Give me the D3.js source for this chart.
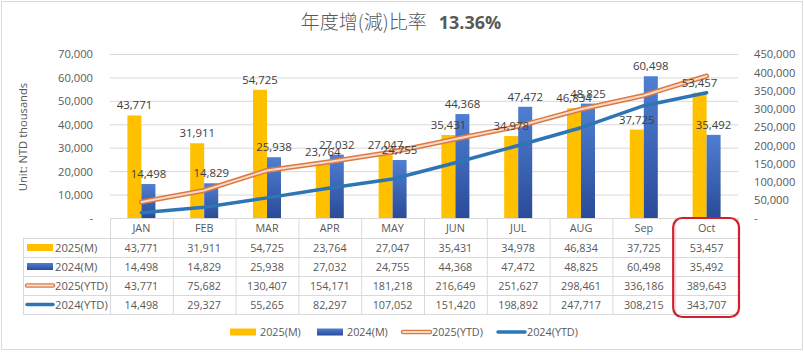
<!DOCTYPE html>
<html>
<head>
<meta charset="utf-8">
<script src="https://cdn.jsdelivr.net/npm/d3@7"></script>
<style>
  body { margin: 0; background: #fff; }
  text { font-family: 'Open Sans', 'Noto Sans', sans-serif; }
</style>
</head>
<body>
<script>
const months = ['JAN', 'FEB', 'MAR', 'APR', 'MAY', 'JUN', 'JUL', 'AUG', 'Sep', 'Oct'];
const m2025 = [43771, 31911, 54725, 23764, 27047, 35431, 34978, 46834, 37725, 53457];
const m2024 = [14498, 14829, 25938, 27032, 24755, 44368, 47472, 48825, 60498, 35492];
const ytd2025 = [43771, 75682, 130407, 154171, 181218, 216649, 251627, 298461, 336186, 389643];
const ytd2024 = [14498, 29327, 55265, 82297, 107052, 151420, 198892, 247717, 308215, 343707];
const leftTicks = [0, 10000, 20000, 30000, 40000, 50000, 60000, 70000];
const rightTicks = [0, 50000, 100000, 150000, 200000, 250000, 300000, 350000, 400000, 450000];
const seriesNames = ['2025(M)', '2024(M)', '2025(YTD)', '2024(YTD)'];

const W = 804, H = 352;
const svg = d3.select('body').append('svg').attr('width', W).attr('height', H);

const fmt = d3.format(',');
const tickFmt = (d) => (d === 0 ? '-' : fmt(d));
const grey = '#595959';
const gridCol = '#d9d9d9';
const fs = 10.8;

// outer frame
svg.append('rect').attr('x', 1.5).attr('y', 1.5).attr('width', W - 3).attr('height', H - 4)
  .attr('fill', '#fff').attr('stroke', gridCol);

// title
const title = svg.append('text').attr('x', 401).attr('y', 29).attr('text-anchor', 'middle')
  .attr('fill', grey).attr('font-size', 19);
title.append('tspan').attr('font-family', "'Noto Sans CJK TC', sans-serif").attr('font-weight', 300).text('年度增(減)比率');
title.append('tspan').attr('dx', 12).attr('font-weight', 'bold').attr('font-size', 18).text('13.36%');

const x = d3.scaleBand().domain(months).range([110, 738]);
const yL = d3.scaleLinear().domain([0, 70000]).range([218, 54]);
const yR = d3.scaleLinear().domain([0, 450000]).range([218, 54]);

// gridlines
svg.append('g').selectAll('line').data(leftTicks.slice(1)).join('line')
  .attr('x1', 110).attr('x2', 738).attr('y1', (d) => yL(d) + 0.5).attr('y2', (d) => yL(d) + 0.5)
  .attr('stroke', gridCol);

// left axis
const axL = svg.append('g').attr('transform', 'translate(96,0)')
  .call(d3.axisLeft(yL).tickValues(leftTicks).tickFormat(tickFmt).tickSize(0));
axL.select('.domain').remove();
axL.selectAll('text').attr('fill', grey).attr('font-size', fs + 0.4).attr('dy', '0.35em');

// right axis
const axR = svg.append('g').attr('transform', 'translate(751,0)')
  .call(d3.axisRight(yR).tickValues(rightTicks).tickFormat(tickFmt).tickSize(0));
axR.select('.domain').remove();
axR.selectAll('text').attr('fill', grey).attr('font-size', fs + 0.4).attr('dy', '0.35em');

svg.append('text').attr('transform', 'translate(27,137) rotate(-90)').attr('text-anchor', 'middle')
  .attr('fill', grey).attr('font-size', fs + 0.4).text('Unit: NTD thousands');

// gradient for 2024 bars
const defs = svg.append('defs');
const grad = defs.append('linearGradient').attr('id', 'blueGrad').attr('x1', 0).attr('x2', 0).attr('y1', 0).attr('y2', 1);
grad.append('stop').attr('offset', '0%').attr('stop-color', '#4f7fd2');
grad.append('stop').attr('offset', '100%').attr('stop-color', '#2a4b98');

const bw = 14;
const cx = (d) => x(d) + x.bandwidth() / 2;

svg.append('g').selectAll('rect').data(months).join('rect')
  .attr('x', (d) => cx(d) - bw).attr('width', bw)
  .attr('y', (d, i) => yL(m2025[i])).attr('height', (d, i) => yL(0) - yL(m2025[i]))
  .attr('fill', '#ffc000');
svg.append('g').selectAll('rect').data(months).join('rect')
  .attr('x', (d) => cx(d)).attr('width', bw)
  .attr('y', (d, i) => yL(m2024[i])).attr('height', (d, i) => yL(0) - yL(m2024[i]))
  .attr('fill', 'url(#blueGrad)');

// YTD lines
const lineR = (arr) => d3.line().x((d, i) => cx(months[i])).y((d) => yR(d))(arr);
svg.append('path').attr('d', lineR(ytd2025)).attr('fill', 'none')
  .attr('stroke', '#d97a45').attr('stroke-width', 5).attr('stroke-linejoin', 'round').attr('stroke-linecap', 'round');
svg.append('path').attr('d', lineR(ytd2025)).attr('fill', 'none')
  .attr('stroke', '#fbd9c2').attr('stroke-width', 2).attr('stroke-linejoin', 'round').attr('stroke-linecap', 'round');
svg.append('path').attr('d', lineR(ytd2024)).attr('fill', 'none')
  .attr('stroke', '#2e75b6').attr('stroke-width', 3.5).attr('stroke-linejoin', 'round').attr('stroke-linecap', 'round');

// bar labels
const lbl = svg.append('g').attr('fill', '#404040').attr('font-size', fs + 0.6).attr('text-anchor', 'middle');
lbl.selectAll('.l25').data(months).join('text').attr('class', 'l25')
  .attr('x', (d) => cx(d) - bw / 2).attr('y', (d, i) => yL(m2025[i]) - 6).text((d, i) => fmt(m2025[i]));
lbl.selectAll('.l24').data(months).join('text').attr('class', 'l24')
  .attr('x', (d) => cx(d) + bw / 2).attr('y', (d, i) => yL(m2024[i]) - 6).text((d, i) => fmt(m2024[i]));

// data table
const rowTop = 238, rowH = 19;
const rows = [m2025, m2024, ytd2025, ytd2024];
const tbl = svg.append('g').attr('stroke', gridCol).attr('stroke-width', 1);
tbl.append('line').attr('x1', 110).attr('x2', 738).attr('y1', 218.5).attr('y2', 218.5);
d3.range(rows.length + 1).forEach((r) => {
  const yy = rowTop + r * rowH + 0.5;
  tbl.append('line').attr('x1', 23).attr('x2', 738).attr('y1', yy).attr('y2', yy);
});
tbl.append('line').attr('x1', 23.5).attr('x2', 23.5).attr('y1', rowTop).attr('y2', rowTop + rows.length * rowH);
months.concat(['_end']).forEach((m, i) => {
  const xx = (i < months.length ? x(m) : 738) + 0.5;
  tbl.append('line').attr('x1', xx).attr('x2', xx).attr('y1', 218).attr('y2', rowTop + rows.length * rowH);
});

const tt = svg.append('g').attr('fill', grey).attr('font-size', fs).attr('text-anchor', 'middle');
tt.selectAll('.hd').data(months).join('text').attr('class', 'hd')
  .attr('x', cx).attr('y', 232).text((d) => d);
rows.forEach((arr, r) => {
  tt.selectAll('.r' + r).data(arr).join('text').attr('class', 'r' + r)
    .attr('x', (d, i) => cx(months[i])).attr('y', rowTop + r * rowH + 14).text((d) => fmt(d));
});

// legend keys
function drawKey(g, k, x0, yc, len) {
  if (k === 0) g.append('rect').attr('x', x0).attr('y', yc - 3.5).attr('width', len).attr('height', 7).attr('fill', '#ffc000');
  if (k === 1) g.append('rect').attr('x', x0).attr('y', yc - 3.5).attr('width', len).attr('height', 7).attr('fill', 'url(#blueGrad)');
  if (k === 2) {
    g.append('line').attr('x1', x0).attr('x2', x0 + len).attr('y1', yc).attr('y2', yc)
      .attr('stroke', '#d97a45').attr('stroke-width', 4.5).attr('stroke-linecap', 'round');
    g.append('line').attr('x1', x0).attr('x2', x0 + len).attr('y1', yc).attr('y2', yc)
      .attr('stroke', '#fbd9c2').attr('stroke-width', 1.8).attr('stroke-linecap', 'round');
  }
  if (k === 3) g.append('line').attr('x1', x0).attr('x2', x0 + len).attr('y1', yc).attr('y2', yc)
    .attr('stroke', '#2e75b6').attr('stroke-width', 3.5).attr('stroke-linecap', 'round');
}

const keys = svg.append('g');
seriesNames.forEach((s, r) => {
  const yc = rowTop + r * rowH + 9.5;
  drawKey(keys, r, 27, yc, 26);
  keys.append('text').attr('x', 55).attr('y', yc + 4).attr('fill', grey).attr('font-size', fs + 0.4).text(s);
});

// bottom legend
const legX = [230, 317, 403, 498];
const leg = svg.append('g');
seriesNames.forEach((s, r) => {
  drawKey(leg, r, legX[r], 332, r < 2 ? 26 : 27);
  leg.append('text').attr('x', legX[r] + (r < 2 ? 30 : 29)).attr('y', 336).attr('fill', grey)
    .attr('font-size', fs).text(s);
});

// highlight latest month
svg.append('rect').attr('x', x('Oct') - 2).attr('y', 218).attr('width', x.bandwidth() + 3).attr('height', 99)
  .attr('rx', 9).attr('fill', 'none').attr('stroke', '#d0202f').attr('stroke-width', 2.2);
</script>
</body>
</html>
